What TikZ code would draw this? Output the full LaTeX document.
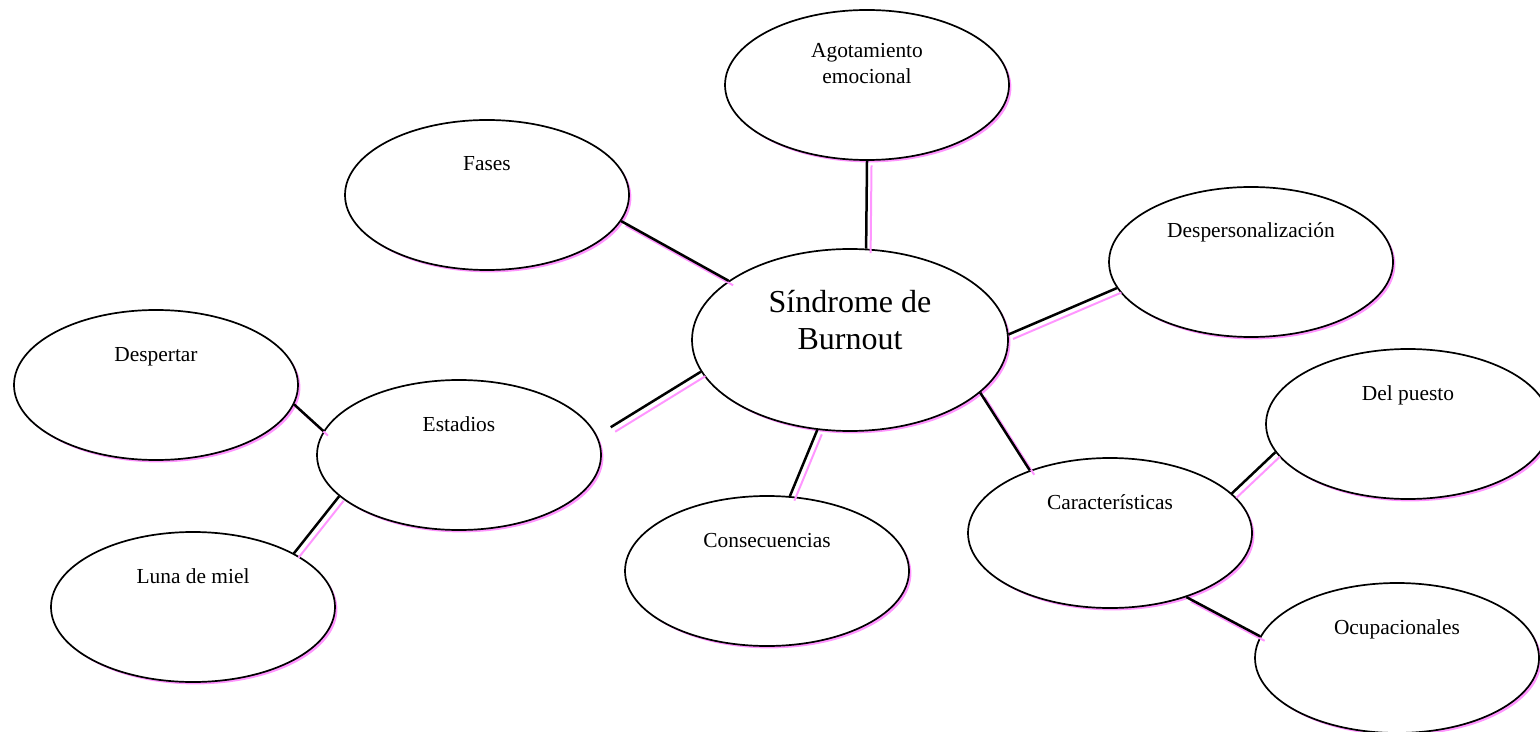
\documentclass[tikz,border=0pt]{standalone}
\usepackage{fontspec}
\setmainfont{Liberation Serif}
\usetikzlibrary{shapes.geometric,shadows}
\definecolor{sombra}{RGB}{255,150,255}
\tikzset{
  burb/.style = {ellipse, draw=black, line width=0.85pt, fill=white, inner sep=0pt,
    minimum width=142pt, minimum height=75pt,
    general shadow={fill=sombra, shadow xshift=1.2pt, shadow yshift=-1.2pt}},
  burb_c/.style = {burb, minimum width=158pt, minimum height=91pt},
  etiq/.style = {align=center, inner sep=0pt, anchor=base, font=\fontsize{10.7}{13}\selectfont},
  etiq_c/.style = {etiq, font=\fontsize{16}{18.3}\selectfont},
  enlace/.style = {line width=1.25pt,
    preaction={draw=sombra, line width=1pt, transform canvas={xshift=2.25pt, yshift=-2.25pt}}}
}
\begin{document}
\begin{tikzpicture}[x=0.5pt, y=-0.5pt]
	\useasboundingbox (0,0) rectangle (1540,732);
	\node [burb_c] (sindrome) at (850,340) {};
	\node [burb] (agotamiento) at (867,85) {};
	\node [burb] (fases) at (487,195) {};
	\node [burb] (despers) at (1251,262) {};
	\node [burb] (despertar) at (156,385) {};
	\node [burb] (estadios) at (459,455) {};
	\node [burb] (puesto) at (1408,424) {};
	\node [burb] (caract) at (1110,533) {};
	\node [burb] (consec) at (767,571) {};
	\node [burb] (luna) at (193,607) {};
	\node [burb] (ocup) at (1397,658) {};

	\node [etiq_c] (t_sindrome) at ([yshift=-4.65pt]sindrome.center) {Síndrome de\\Burnout};
	\node [etiq] (t_agotamiento) at ([yshift=0.85pt]agotamiento.center) {Agotamiento\\emocional};
	\node [etiq] (t_fases) at ([yshift=12pt]fases.center) {Fases};
	\node [etiq] (t_despers) at ([yshift=12pt]despers.center) {Despersonalización};
	\node [etiq] (t_despertar) at ([yshift=12pt]despertar.center) {Despertar};
	\node [etiq] (t_estadios) at ([yshift=12pt]estadios.center) {Estadios};
	\node [etiq] (t_puesto) at ([yshift=12pt]puesto.center) {Del puesto};
	\node [etiq] (t_caract) at ([yshift=12pt]caract.center) {Características};
	\node [etiq] (t_consec) at ([yshift=12pt]consec.center) {Consecuencias};
	\node [etiq] (t_luna) at ([yshift=12pt]luna.center) {Luna de miel};
	\node [etiq] (t_ocup) at ([yshift=12pt]ocup.center) {Ocupacionales};

	\draw [enlace] (agotamiento.south) -- (sindrome.80);
	\draw [enlace] (fases.-11) -- (sindrome.154);
	\draw [enlace] (sindrome.2) -- (despers.191);
	\draw [enlace, shorten <=8pt] (estadios.8) -- (sindrome.192);
	\draw [enlace] (consec.73) -- (sindrome.250);
	\draw [enlace] (sindrome.-22) -- (caract.142);
	\draw [enlace] (despertar.-8) -- (estadios.170);
	\draw [enlace] (luna.28) -- (estadios.199);
	\draw [enlace] (caract.18) -- (puesto.192);
	\draw [enlace] (caract.-40) -- (ocup.171);
\end{tikzpicture}
\end{document}
